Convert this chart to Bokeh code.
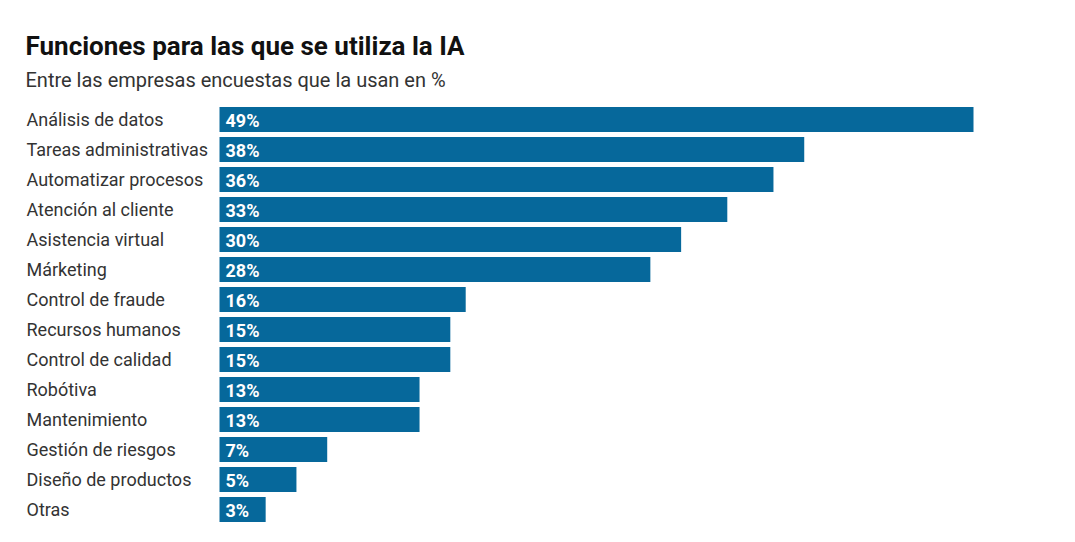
from bokeh.plotting import figure
from bokeh.models import Range1d, ColumnDataSource
from bokeh.core.properties import value
from bokeh.embed import file_html
from bokeh.resources import INLINE

title = "Funciones para las que se utiliza la IA"
subtitle = "Entre las empresas encuestas que la usan en %"
categories = ["Análisis de datos", "Tareas administrativas", "Automatizar procesos",
              "Atención al cliente", "Asistencia virtual", "Márketing", "Control de fraude",
              "Recursos humanos", "Control de calidad", "Robótiva", "Mantenimiento",
              "Gestión de riesgos", "Diseño de productos", "Otras"]
values = [49, 38, 36, 33, 30, 28, 16, 15, 15, 13, 13, 7, 5, 3]

BAR = "#06689b"
FONT = "Roboto"

W, H = 1059, 526
LEFT = 25          # frame left edge (page px)
px_per_unit = 754 / 49.0
x0 = -(219 - LEFT) / px_per_unit
x1 = x0 + (W - LEFT) / px_per_unit
row = 30.0
ytop = -119.0 / row
ybot = ytop + H / row

p = figure(width=W, height=H, output_backend="svg", toolbar_location=None,
           x_range=Range1d(x0, x1), y_range=Range1d(ybot, ytop),
           min_border=0, min_border_left=LEFT, min_border_right=0,
           min_border_top=0, min_border_bottom=0)
p.axis.visible = False
p.grid.visible = False
p.outline_line_color = None
p.background_fill_color = "white"
p.border_fill_color = "white"

idx = list(range(len(categories)))
src = ColumnDataSource(dict(y=idx, v=values, cat=categories,
                            lab=[f"{v}%" for v in values],
                            x0=[x0] * len(idx), z=[0] * len(idx)))

p.hbar(y="y", left="z", right="v", height=25 / row, source=src,
       fill_color=BAR, line_color=None)

p.text(x="x0", y="y", text="cat", source=src, text_align="left",
       text_baseline="middle", text_font=value(FONT), text_font_size="18px",
       text_color="#333333", x_offset=1, y_offset=0)

p.text(x="z", y="y", text="lab", source=src, text_align="left",
       text_baseline="middle", text_font=value(FONT), text_font_size="18px",
       text_font_style="bold", text_color="white", x_offset=6, y_offset=1)

p.text(x=[x0], y=[ytop + 45.5 / row], text=[title], text_align="left",
       text_baseline="middle", text_font=value(FONT), text_font_size="26px",
       text_font_style="bold", text_color="#111111")
p.text(x=[x0], y=[ytop + 79.5 / row], text=[subtitle], text_align="left",
       text_baseline="middle", text_font=value(FONT), text_font_size="20px",
       text_color="#333333")

open("out.html", "w").write(file_html(p, INLINE))
